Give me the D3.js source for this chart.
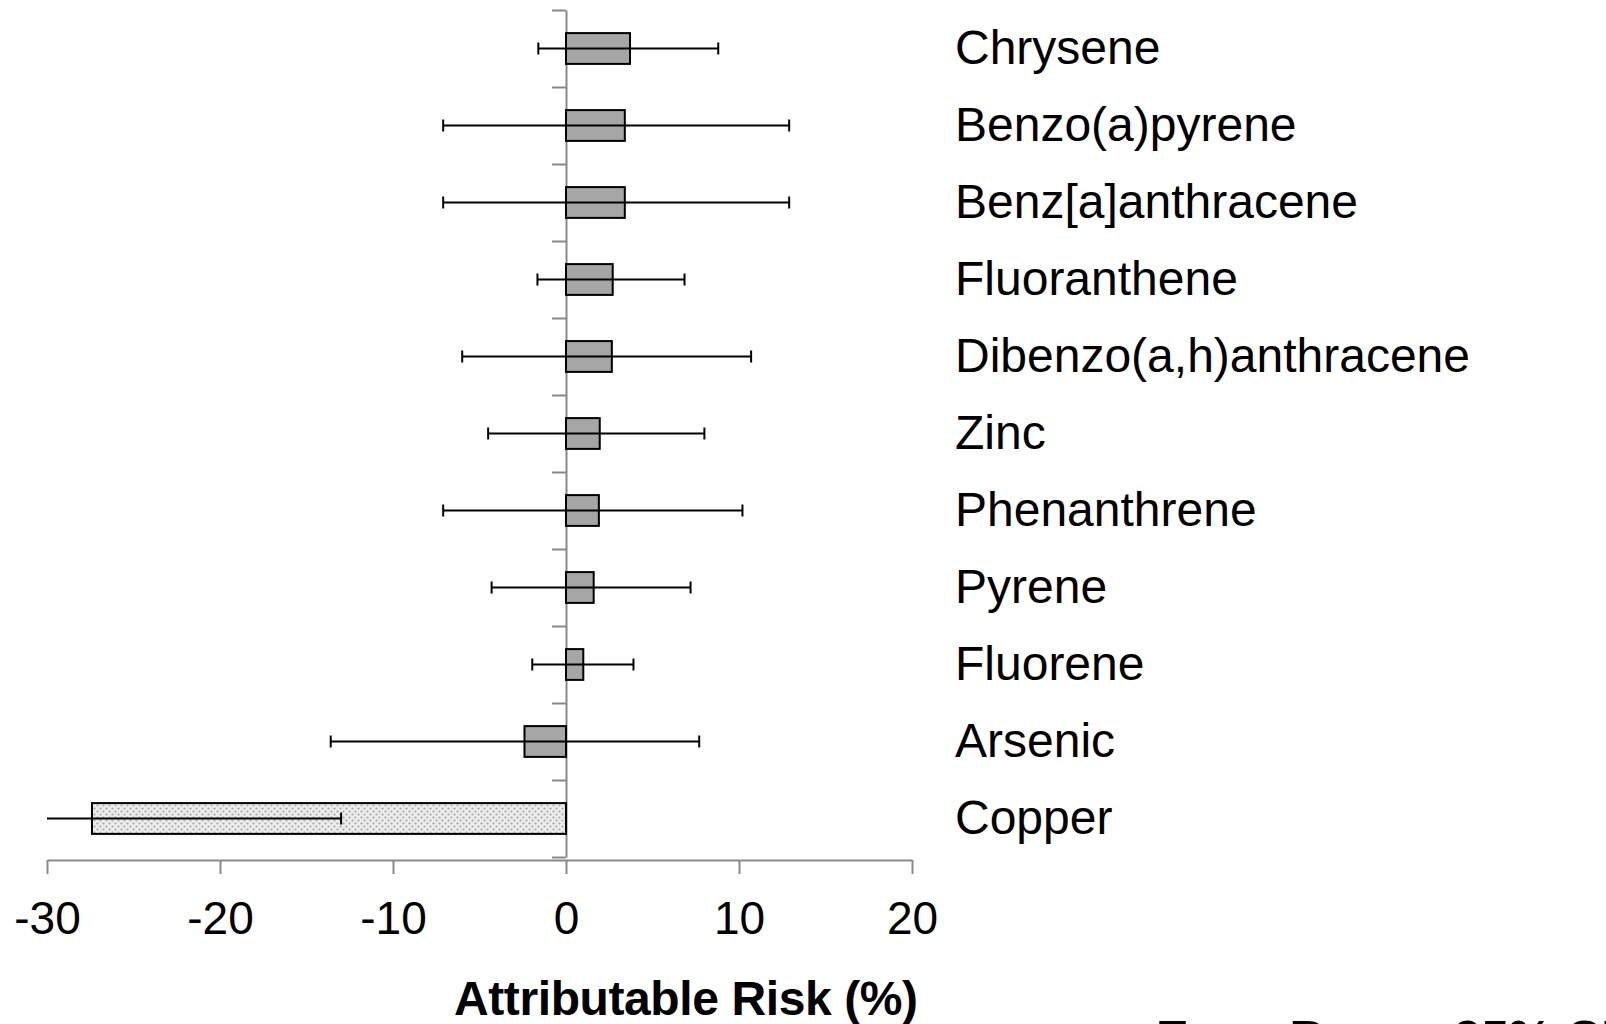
<!DOCTYPE html>
<html lang="en">
	<head>
		<meta charset="utf-8">
		<title>Attributable risk</title>
		<script src="https://d3js.org/d3.v7.min.js"></script>
		<style type="text/css">
			body { margin: 0; background: #fff; }
			text { font-family: "Liberation Sans", Arial, sans-serif; fill: #000; }
			.axis path, .axis line { stroke: #898989; stroke-width: 2px; }
		</style>
	</head>
	<body>
		<svg id="chart" width="1606" height="1024"></svg>

		<script type="text/javascript">

			var categories = ["Chrysene", "Benzo(a)pyrene", "Benz[a]anthracene", "Fluoranthene",
				"Dibenzo(a,h)anthracene", "Zinc", "Phenanthrene", "Pyrene", "Fluorene", "Arsenic", "Copper"];
			var risk  = [3.7, 3.4, 3.4, 2.7, 2.65, 1.95, 1.9, 1.6, 1.0, -2.4, -27.4];
			var lower = [-1.6, -7.1, -7.1, -1.65, -6.0, -4.5, -7.1, -4.3, -1.95, -13.6, -33];
			var upper = [8.8, 12.9, 12.9, 6.85, 10.7, 8.0, 10.2, 7.2, 3.9, 7.7, -13.0];
			var xTicks = [-30, -20, -10, 0, 10, 20];

			var svg = d3.select("#chart");

			var x = d3.scaleLinear().domain([-30, 20]).range([47, 912]);
			var y = d3.scaleBand().domain(categories).range([10, 857])
						.paddingInner(0.6).paddingOuter(0.3);

			// dotted fill for the copper bar
			var pat = svg.append("defs").append("pattern")
						.attr("id", "dots")
						.attr("patternUnits", "userSpaceOnUse")
						.attr("width", 6).attr("height", 6);
			pat.append("rect").attr("width", 6).attr("height", 6).attr("fill", "#ececec");
			pat.append("circle").attr("cx", 1.5).attr("cy", 1.5).attr("r", 1.1).attr("fill", "#a8a8a8");
			pat.append("circle").attr("cx", 4.5).attr("cy", 4.5).attr("r", 1.1).attr("fill", "#a8a8a8");

			// x axis
			svg.append("g")
				.attr("class", "axis")
				.attr("transform", "translate(0,860)")
				.call(d3.axisBottom(x).tickValues(xTicks).tickFormat(function(d) { return String(d); })
						.tickSize(14).tickSizeOuter(0).tickPadding(27))
				.selectAll("text")
					.style("font-size", "46px")
					.style("font-family", "'Liberation Sans', Arial, sans-serif")
					.attr("fill", "#000");

			// category axis on the zero line, ticks at band edges
			var step = y.step();
			var edge = d3.scaleLinear().domain([0, categories.length])
						.range([y.range()[0], y.range()[0] + step * categories.length]);
			svg.append("g")
				.attr("class", "axis")
				.attr("transform", "translate(" + x(0) + ",0)")
				.call(d3.axisLeft(edge).tickValues(d3.range(categories.length + 1))
						.tickFormat("").tickSize(14).tickSizeOuter(0));

			// bars
			svg.append("g").selectAll("rect")
				.data(categories)
				.enter()
				.append("rect")
				.attr("x", function(d, i) { return Math.min(x(0), x(risk[i])); })
				.attr("width", function(d, i) { return Math.abs(x(risk[i]) - x(0)); })
				.attr("y", function(d) { return y(d); })
				.attr("height", y.bandwidth())
				.attr("fill", function(d, i) { return i == categories.length - 1 ? "url(#dots)" : "#a6a6a6"; })
				.attr("stroke", "#000")
				.attr("stroke-width", 2);

			// error bars
			var lo = function(i) { return Math.max(lower[i], x.domain()[0]); };
			var hi = function(i) { return Math.min(upper[i], x.domain()[1]); };
			var err = svg.append("g").selectAll("g")
				.data(categories)
				.enter()
				.append("g")
				.attr("transform", function(d) { return "translate(0," + (y(d) + y.bandwidth() / 2) + ")"; });

			err.append("line")
				.attr("x1", function(d, i) { return x(lo(i)); })
				.attr("x2", function(d, i) { return x(hi(i)); })
				.attr("stroke", "#000").attr("stroke-width", 2);

			err.each(function(d, i) {
				var g = d3.select(this);
				[lower[i], upper[i]].forEach(function(v) {
					if (v < x.domain()[0] || v > x.domain()[1]) return;
					g.append("line")
						.attr("x1", x(v)).attr("x2", x(v))
						.attr("y1", -6).attr("y2", 6)
						.attr("stroke", "#000").attr("stroke-width", 2);
				});
			});

			// category labels
			svg.append("g").selectAll("text")
				.data(categories)
				.enter()
				.append("text")
				.attr("x", 955)
				.attr("y", function(d) { return y(d) + y.bandwidth() / 2 + 15; })
				.style("font-size", "48px")
				.text(function(d) { return d; });

			// axis title
			svg.append("text")
				.attr("x", 454)
				.attr("y", 1015)
				.attr("textLength", 464)
				.attr("lengthAdjust", "spacing")
				.style("font-size", "48px")
				.style("font-weight", "bold")
				.text("Attributable Risk (%)");

			// note at the bottom edge, cut off as in the original
			svg.append("text")
				.attr("x", 1156)
				.attr("y", 1054)
				.style("font-size", "49px")
				.style("font-weight", "bold")
				.text("Error Bars = 95% CI");

		</script>
	</body>
</html>
